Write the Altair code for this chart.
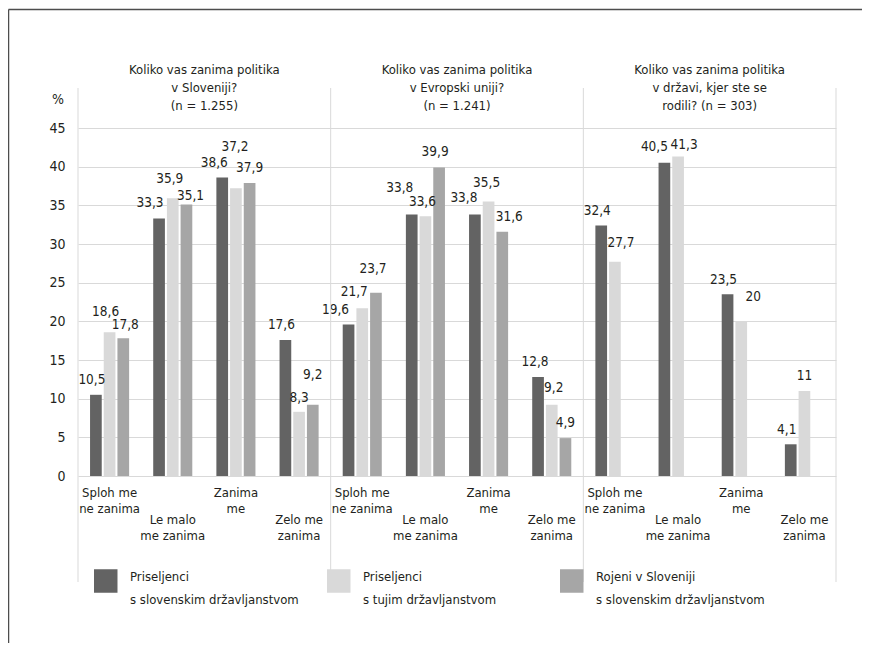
import altair as alt
import pandas as pd

# ---------------- data ----------------
questions = [
    "Koliko vas zanima politika\nv Sloveniji?\n(n = 1.255)",
    "Koliko vas zanima politika\nv Evropski uniji?\n(n = 1.241)",
    "Koliko vas zanima politika\nv državi, kjer ste se\nrodili? (n = 303)",
]
categories = ["Sploh me\nne zanima", "Le malo\nme zanima", "Zanima\nme", "Zelo me\nzanima"]
series = [
    "Priseljenci\ns slovenskim državljanstvom",
    "Priseljenci\ns tujim državljanstvom",
    "Rojeni v Sloveniji\ns slovenskim državljanstvom",
]
# values[series][category] for each question
q1_values = [[10.5, 33.3, 38.6, 17.6], [18.6, 35.9, 37.2, 8.3], [17.8, 35.1, 37.9, 9.2]]
q2_values = [[19.6, 33.8, 33.8, 12.8], [21.7, 33.6, 35.5, 9.2], [23.7, 39.9, 31.6, 4.9]]
q3_values = [[32.4, 40.5, 23.5, 4.1], [27.7, 41.3, 20, 11], [None, None, None, None]]
y_ticks = [0, 5, 10, 15, 20, 25, 30, 35, 40, 45]

# label placement nudges (pixels) [question][category][series]: (dx, raise above bar top)
label_nudge = [
    [[(-3.5, 15), (-4.5, 20), (1.5, 13)], [(-9, 15.5), (-3, 19.5), (3.5, 9)],
     [(-8.5, 14.6), (-1, 41), (0, 15)], [(-3.5, 15), (0, 14), (0, 30)]],
    [[(-13, 14.5), (-7.5, 16.6), (-3, 23.5)], [(-12.5, 27), (-3, 14.6), (-3.5, 15)],
     [(-11, 16.4), (-2, 18), (7, 14.4)], [(-3, 15.4), (2.4, 17), (0, 14.8)]],
    [[(-4, 14), (5.7, 18.6), (0, 15)], [(-10, 16.3), (6, 11.8), (0, 15)],
     [(-4, 14.4), (12, 24), (0, 15)], [(-4, 14), (0, 15), (0, 15)]],
]

# ---------------- styling ----------------
FONT = "DejaVu Sans Condensed, Liberation Sans Narrow, sans-serif"
TXT = "#231f20"
GRID = "#d9d9d9"
COLORS = ["#636363", "#d9d9d9", "#a6a6a6"]
W, H = 758, 348
PX_PER_UNIT = H / 45.0
FS = 13

keys = [f"{q}|{c}" for q in range(3) for c in range(4)]
all_values = [q1_values, q2_values, q3_values]

rows = []
for qi, qv in enumerate(all_values):
    for si, sv in enumerate(qv):
        for ci, v in enumerate(sv):
            if v is None:
                continue
            dx, rise = label_nudge[qi][ci][si]
            rows.append({
                "key": f"{qi}|{ci}",
                "series": series[si],
                "value": v,
                "label": f"{v:g}".replace(".", ","),
                "ly": v + rise / PX_PER_UNIT,
                "ldx": round(dx),
            })
df = pd.DataFrame(rows)

x_scale = alt.Scale(type="band", domain=keys, paddingInner=0, paddingOuter=0)
xo_scale = alt.Scale(type="band", domain=series, paddingInner=0.146, paddingOuter=0.88)
y_scale = alt.Scale(domain=[0, 45], nice=False)
color_scale = alt.Scale(domain=series, range=COLORS)
y_axis = alt.Axis(values=y_ticks, grid=True, gridColor=GRID, gridWidth=1,
                  domain=False, ticks=False, labelPadding=13, labelFontSize=14,
                  labelFont=FONT, labelColor=TXT, title=None)

bars = alt.Chart(df).mark_bar().encode(
    x=alt.X("key:N", scale=x_scale, axis=None),
    xOffset=alt.XOffset("series:N", scale=xo_scale),
    y=alt.Y("value:Q", scale=y_scale, axis=y_axis),
    color=alt.Color("series:N", scale=color_scale, legend=None),
)

label_layers = []
for dxv in sorted(df["ldx"].unique()):
    sub = df[df["ldx"] == dxv]
    label_layers.append(
        alt.Chart(sub).mark_text(dx=int(dxv), baseline="middle", align="center",
                                 font=FONT, fontSize=13.5, color=TXT).encode(
            x=alt.X("key:N", scale=x_scale, axis=None),
            xOffset=alt.XOffset("series:N", scale=xo_scale),
            y=alt.Y("ly:Q", scale=y_scale, axis=y_axis),
            text="label:N",
        )
    )

# panel titles
df_t = pd.DataFrame({"key": [f"{q}|2" for q in range(3)], "title": questions})
titles = alt.Chart(df_t).mark_text(lineBreak="\n", lineHeight=18, baseline="middle",
                                   align="center", font=FONT, fontSize=FS, color=TXT).encode(
    x=alt.X("key:N", scale=x_scale, axis=None, bandPosition=0),
    y=alt.value(-58),
    text="title:N",
)

# panel separators
df_s = pd.DataFrame({"key": [f"{q}|0" for q in range(3)]})
seps = alt.Chart(df_s).mark_rule(color=GRID, strokeWidth=1).encode(
    x=alt.X("key:N", scale=x_scale, axis=None, bandPosition=0),
    y=alt.value(-40), y2=alt.value(454),
)
one = pd.DataFrame({"a": [0]})
sep_right = alt.Chart(one).mark_rule(color=GRID, strokeWidth=1).encode(
    x=alt.value(W), y=alt.value(-40), y2=alt.value(454))

# category labels (staggered in two rows)
df_c = pd.DataFrame({
    "key": keys,
    "cat": [categories[int(k.split("|")[1])] for k in keys],
    "row": [int(k.split("|")[1]) % 2 for k in keys],
})
cat_layers = []
for r, yv in [(0, 365), (1, 392)]:
    cat_layers.append(
        alt.Chart(df_c[df_c["row"] == r]).mark_text(
            lineBreak="\n", lineHeight=16, baseline="middle", align="center",
            font=FONT, fontSize=FS, color=TXT).encode(
            x=alt.X("key:N", scale=x_scale, axis=None),
            y=alt.value(yv),
            text="cat:N",
        )
    )

pct = alt.Chart(one).mark_text(text="%", font=FONT, fontSize=14, color=TXT,
                               baseline="middle", align="center").encode(
    x=alt.value(-20), y=alt.value(-28))

frame_left = alt.Chart(one).mark_rule(color="#4d4d4d", strokeWidth=1.5).encode(
    x=alt.value(-69.5), y=alt.value(-118.5), y2=alt.value(540))
frame_top = alt.Chart(one).mark_rule(color="#4d4d4d", strokeWidth=1.5).encode(
    x=alt.value(-69.5), x2=alt.value(800), y=alt.value(-118.5))

main = alt.layer(bars, *label_layers, titles, seps, sep_right, *cat_layers, pct,
                 frame_left, frame_top)

# legend
df_l = pd.DataFrame({"series": series})
leg_x = alt.X("series:N", scale=alt.Scale(type="band", domain=series, range=[16, 715],
                                         paddingInner=0, paddingOuter=0),
              axis=None, bandPosition=0)
leg_sq = alt.Chart(df_l).mark_square(size=552, xOffset=11.75, opacity=1).encode(
    x=leg_x, y=alt.value(453),
    color=alt.Color("series:N", scale=color_scale, legend=None),
)
leg_tx = alt.Chart(df_l).mark_text(lineBreak="\n", lineHeight=23, baseline="middle",
                                   align="left", dx=36, font=FONT, fontSize=FS,
                                   color=TXT).encode(
    x=leg_x, y=alt.value(449), text="series:N")
legend = alt.layer(leg_sq, leg_tx)

chart = alt.layer(main, legend).resolve_scale(x="independent").properties(
    width=W, height=H,
    autosize=alt.AutoSizeParams(type="none"),
    padding={"left": 70, "top": 120, "right": 26, "bottom": 167},
    background="white",
).configure_view(stroke=None)

chart.save("out.html", embed_options={"renderer": "svg", "actions": False})
